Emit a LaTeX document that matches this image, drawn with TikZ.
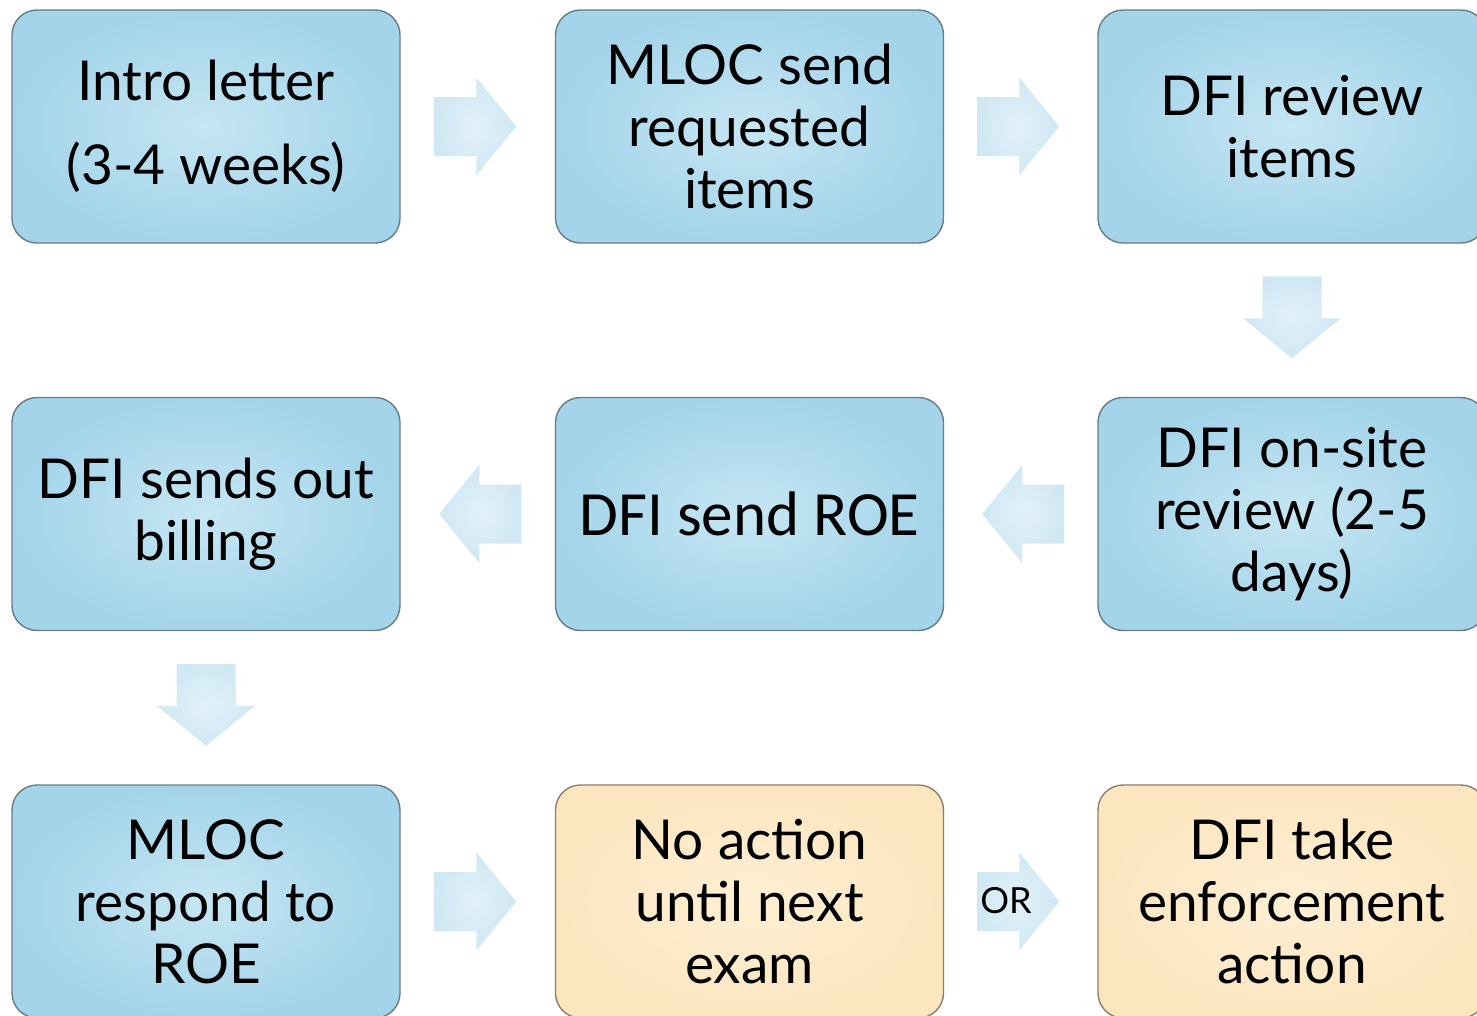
\documentclass[tikz,border=0pt]{standalone}
\usepackage{fontspec}
\setmainfont{Lato}
\newfontfamily\roefont{Carlito}
\usetikzlibrary{calc}

\definecolor{blueIn}{RGB}{198,230,243}
\definecolor{blueOut}{RGB}{163,212,234}
\definecolor{blueEdge}{RGB}{104,124,134}
\definecolor{sandIn}{RGB}{254,239,211}
\definecolor{sandOut}{RGB}{252,230,192}
\definecolor{sandEdge}{RGB}{140,126,104}
\definecolor{arrowIn}{RGB}{226,241,248}
\definecolor{arrowOut}{RGB}{207,232,243}

\tikzset{
  stage/.style={rectangle, rounded corners=25pt, minimum width=388pt,
    minimum height=233pt, line width=1.4pt, align=center,
    font=\fontsize{55}{62}\selectfont, inner sep=0pt},
  bluestage/.style={stage, draw=blueEdge, shading=radial,
    inner color=blueIn, outer color=blueOut},
  sandstage/.style={stage, draw=sandEdge, shading=radial,
    inner color=sandIn, outer color=sandOut},
  blockarrow/.pic={
    \path[shading=radial, inner color=arrowIn, outer color=arrowOut]
      (-41,-29.5) -- (1,-29.5) -- (1,-49) -- (41,0) -- (1,49) -- (1,29.5)
      -- (-41,29.5) -- cycle;
  }
}

\begin{document}
\begin{tikzpicture}[x=1pt,y=-1pt]
  \clip (0,0) rectangle (1477,1015);
  \fill[white] (0,0) rectangle (1477,1015);

  % row 1
  \node[bluestage] (intro) at (206,126.5) {Intro letter\\[22pt](3-4 weeks)};
  \node[bluestage] (send) at (749.5,126.5) {MLOC send\\requested\\items};
  \node[bluestage] (review) at (1292,126.5) {DFI review\\items};

  % row 2
  \node[bluestage] (onsite) at (1292,514) {DFI on-site\\review (2-5\\days)};
  \node[bluestage, font=\roefont\fontsize{63}{68}\selectfont] (roe) at (749.5,514)
    {DFI send ROE};
  \node[bluestage] (billing) at (206,514) {DFI sends out\\billing};

  % row 3
  \node[bluestage] (respond) at (206,901.5) {MLOC\\respond to\\ROE};
  \node[sandstage] (noaction) at (749.5,901.5) {No action\\until next\\exam};
  \node[sandstage] (enforce) at (1292,901.5) {DFI take\\enforcement\\action};

  % flow arrows between the stages
  \pic at ($(intro.east)!0.5!(send.west)+(-2.5,0)$) {blockarrow};
  \pic at ($(send.east)!0.5!(review.west)+(-2.5,0)$) {blockarrow};
  \pic[rotate=-90] at ($(review.south)!0.5!(onsite.north)+(0,-3)$) {blockarrow};
  \pic[rotate=180] at ($(onsite.west)!0.5!(roe.east)+(2.5,0)$) {blockarrow};
  \pic[rotate=180] at ($(roe.west)!0.5!(billing.east)+(2.5,0)$) {blockarrow};
  \pic[rotate=-90] at ($(billing.south)!0.5!(respond.north)+(0,-3)$) {blockarrow};
  \pic at ($(respond.east)!0.5!(noaction.west)+(-2.5,0)$) {blockarrow};
  \pic at ($(noaction.east)!0.5!(enforce.west)+(-2.5,0)$) {blockarrow};

  \node[font=\fontsize{36}{40}\selectfont, inner sep=0pt] (or) at (1006,901) {OR};
\end{tikzpicture}
\end{document}
